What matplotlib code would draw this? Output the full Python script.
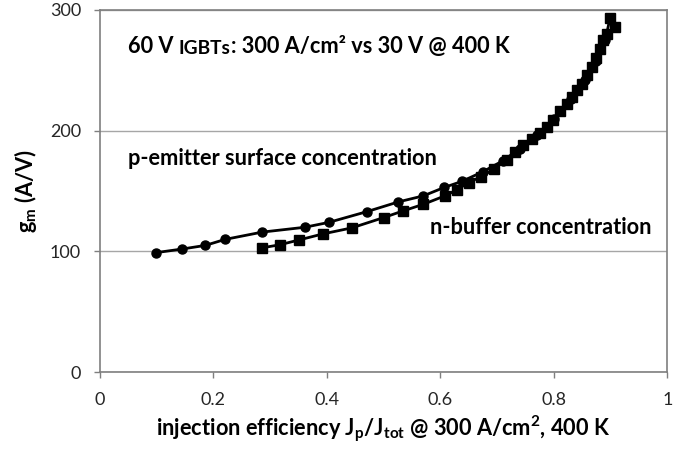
import matplotlib
matplotlib.use("Agg")
import matplotlib.pyplot as plt

# p-emitter surface concentration sweep (circles)
pem_x = [0.099, 0.145, 0.186, 0.221, 0.286, 0.361, 0.403, 0.471, 0.526, 0.570,
         0.607, 0.638, 0.675, 0.710, 0.740, 0.770, 0.800, 0.830, 0.855, 0.875, 0.890]
pem_y = [99, 102, 105, 110, 116, 120, 124, 133, 141, 146,
         153, 158, 166, 175, 185, 196, 210, 226, 242, 258, 275]

# n-buffer concentration sweep (squares)
nbuf_x = [0.286, 0.317, 0.351, 0.393, 0.444, 0.500, 0.534, 0.570, 0.608, 0.629,
          0.650, 0.672, 0.694, 0.717, 0.732, 0.746, 0.761, 0.776, 0.788, 0.799,
          0.811, 0.823, 0.832, 0.841, 0.850, 0.858, 0.867, 0.875, 0.882, 0.887,
          0.893, 0.899, 0.907]
nbuf_y = [103, 105.5, 109.5, 114.5, 119.5, 128, 133.5, 139, 146, 151,
          157, 162, 168, 176, 182.5, 188, 193, 198, 203, 209,
          216, 222, 228, 234, 239, 246, 253, 260, 268, 275,
          280, 293, 286]

x_ticks = [0, 0.2, 0.4, 0.6, 0.8, 1]
x_ticklabels = ["0", "0.2", "0.4", "0.6", "0.8", "1"]
y_ticks = [0, 100, 200, 300]

plt.rcParams['font.family'] = ['Lato', 'DejaVu Sans']
plt.rcParams['mathtext.fontset'] = 'custom'
plt.rcParams['mathtext.rm'] = 'Lato:bold'
plt.rcParams['mathtext.it'] = 'Lato:bold'
plt.rcParams['mathtext.bf'] = 'Lato:bold'

fig = plt.figure(figsize=(6.98, 4.49), dpi=100)
ax = fig.add_axes([0.143, 0.171, 0.813, 0.807])

ax.plot(pem_x, pem_y, color='black', lw=2, marker='o', ms=6.5, zorder=3)
ax.plot(nbuf_x, nbuf_y, color='black', lw=2, marker='s', ms=6.5, zorder=3)

ax.set_xlim(0, 1)
ax.set_ylim(0, 300)
ax.set_xticks(x_ticks)
ax.set_xticklabels(x_ticklabels)
ax.set_yticks(y_ticks)
ax.yaxis.grid(True, color='#a6a6a6', lw=1)
ax.set_axisbelow(True)
for s in ax.spines.values():
    s.set_color('#7f7f7f')
    s.set_linewidth(1.2)
ax.tick_params(axis='both', colors='#7f7f7f', labelcolor='#262626', labelsize=13,
               length=4.5, width=1)
ax.tick_params(axis='x', pad=10)
ax.tick_params(axis='y', pad=9)

fs = 15.7
ax.set_xlabel(r"injection efficiency J$_\mathregular{p}$/J$_\mathregular{tot}$ @ 300 A/cm$^\mathregular{2}$, 400 K",
              fontsize=fs, fontweight='bold', labelpad=4)
ax.set_ylabel(r"g$_\mathregular{m}$ (A/V)", fontsize=fs, fontweight='bold', labelpad=8)

# title line with small-caps style "IGBTs"
t1 = ax.text(0.05, 0.87, "60 V ", transform=ax.transAxes, fontsize=fs,
             fontweight='bold', va='bottom')
t2 = ax.annotate("IGBTs", xycoords=t1, xy=(1, 0), va='bottom', fontsize=fs * 0.88,
                 fontweight='bold')
ax.annotate(": 300 A/cm² vs 30 V @ 400 K", xycoords=t2, xy=(1, 0),
            va='bottom', fontsize=fs, fontweight='bold')
ax.text(0.05, 0.59, "p-emitter surface concentration", transform=ax.transAxes,
        fontsize=fs, fontweight='bold', va='center')
ax.text(0.972, 0.40, "n-buffer concentration", transform=ax.transAxes,
        fontsize=fs, fontweight='bold', va='center', ha='right')

fig.savefig("out.png", dpi=100)
